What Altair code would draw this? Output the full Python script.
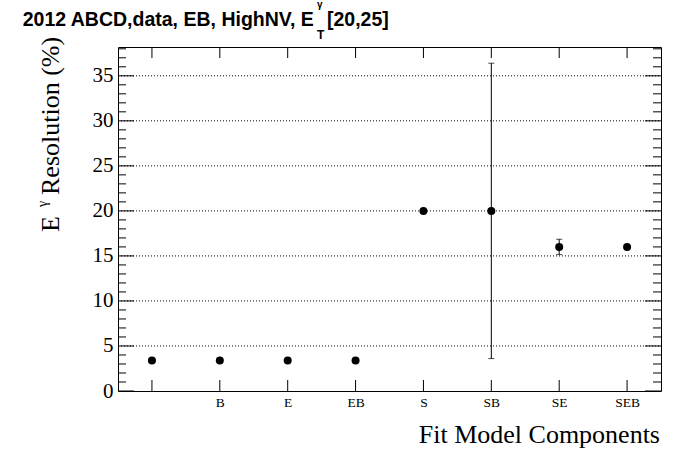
import altair as alt
import pandas as pd

# ---- data ----
categories = ["", "B", "E", "EB", "S", "SB", "SE", "SEB"]
resolution = [3.4, 3.4, 3.4, 3.4, 20.0, 20.0, 16.0, 16.0]
uncertainty = [0.05, 0.05, 0.05, 0.05, 0.1, 16.4, 0.85, 0.1]
y_major = [0, 5, 10, 15, 20, 25, 30, 35]
y_minor = [v for v in range(0, 39) if v % 5 != 0]
grid_values = [5, 10, 15, 20, 25, 30, 35]

title_main = "2012 ABCD,data, EB, HighNV, E"
title_sup = "γ"
title_sub = "T"
title_tail = "[20,25]"
ytitle_main = "E"
ytitle_sup = "γ"
ytitle_tail = "Resolution (%)"
xtitle = "Fit Model Components"

W, H = 543, 344
SERIF = "Liberation Serif"
SANS = "Liberation Sans"

df = pd.DataFrame({
    "cat": categories,
    "y": resolution,
    "lo": [r - e for r, e in zip(resolution, uncertainty)],
    "hi": [r + e for r, e in zip(resolution, uncertainty)],
})
df_major = pd.DataFrame({"y": y_major})
df_minor = pd.DataFrame({"y": y_minor})
df_grid = pd.DataFrame({"y": grid_values})
df_cat = pd.DataFrame({"cat": categories})

xscale = alt.Scale(type="point", domain=categories, padding=0.5)
yscale = alt.Scale(domain=[0, 38.2], nice=False, zero=True)

xaxis = alt.Axis(title=None, ticks=False, tickSize=0, domain=False, grid=False,
                 labelFont=SERIF, labelFontSize=13.5, labelColor="black",
                 labelPadding=4, labelAngle=0)
yaxis = alt.Axis(title=None, ticks=False, tickSize=0, domain=False, grid=False,
                 values=y_major, labelFont=SERIF, labelFontSize=21,
                 labelColor="black", labelPadding=5)

Y = lambda f: alt.Y(f"{f}:Q", scale=yscale, axis=yaxis)
X = alt.X("cat:N", scale=xscale, axis=xaxis, sort=categories)

grid = alt.Chart(df_grid).mark_rule(color="black", strokeWidth=1, strokeDash=[1, 2]).encode(
    y=Y("y"), x=alt.value(0), x2=alt.value(W))

major_l = alt.Chart(df_major).mark_rule(color="black", strokeWidth=1).encode(
    y=Y("y"), x=alt.value(0), x2=alt.value(16))
major_r = alt.Chart(df_major).mark_rule(color="black", strokeWidth=1).encode(
    y=Y("y"), x=alt.value(W - 16), x2=alt.value(W))
minor_l = alt.Chart(df_minor).mark_rule(color="black", strokeWidth=1).encode(
    y=Y("y"), x=alt.value(0), x2=alt.value(8))
minor_r = alt.Chart(df_minor).mark_rule(color="black", strokeWidth=1).encode(
    y=Y("y"), x=alt.value(W - 8), x2=alt.value(W))

xt_bottom = alt.Chart(df_cat).mark_rule(color="black", strokeWidth=1).encode(
    x=X, y=alt.value(H - 11), y2=alt.value(H))
xt_top = alt.Chart(df_cat).mark_rule(color="black", strokeWidth=1).encode(
    x=X, y=alt.value(0), y2=alt.value(11))

err = alt.Chart(df).mark_rule(color="black", strokeWidth=1).encode(
    x=X, y=Y("lo"), y2="hi:Q")
cap_lo = alt.Chart(df).mark_tick(color="black", thickness=1, size=6).encode(
    x=X, y=Y("lo"))
cap_hi = alt.Chart(df).mark_tick(color="black", thickness=1, size=6).encode(
    x=X, y=Y("hi"))
points = alt.Chart(df).mark_point(filled=True, shape="circle", size=64, color="black", opacity=1).encode(
    x=X, y=Y("y"))

one = alt.Data(values=[{"k": 1}])


def txt(text, x, y, size, font, weight="normal", align="left", angle=0):
    kw = dict(text=text, fontSize=size, font=font, fontWeight=weight, align=align,
              baseline="alphabetic", color="black")
    if angle:
        kw["angle"] = angle
    return alt.Chart(one).mark_text(**kw).encode(x=alt.value(x), y=alt.value(y))


texts = [
    txt(title_main, -95.3, -21.5, 19.5, SANS, "bold"),
    txt(title_sup, 199, -39.5, 10, SANS, "bold"),
    txt(title_sub, 199, -7.7, 12, SANS, "bold"),
    txt(title_tail, 209, -21.5, 19.5, SANS, "bold"),
    txt(ytitle_main, -59, 185, 26, SERIF, angle=270),
    txt(ytitle_sup, -71, 160, 14, SERIF, angle=270),
    txt(ytitle_tail, -59, 148, 26, SERIF, angle=270),
    txt(xtitle, 542, 396, 26, SERIF, align="right"),
]

chart = alt.layer(
    grid, major_l, major_r, minor_l, minor_r, xt_bottom, xt_top,
    err, cap_lo, cap_hi, points, *texts
).properties(
    width=W, height=H,
    padding={"left": 118, "top": 47, "right": 35, "bottom": 81},
    autosize=alt.AutoSizeParams(type="none"),
    background="white",
).configure_view(stroke="black", strokeWidth=1)

chart.save("out.html", embed_options={"renderer": "svg", "actions": False})
